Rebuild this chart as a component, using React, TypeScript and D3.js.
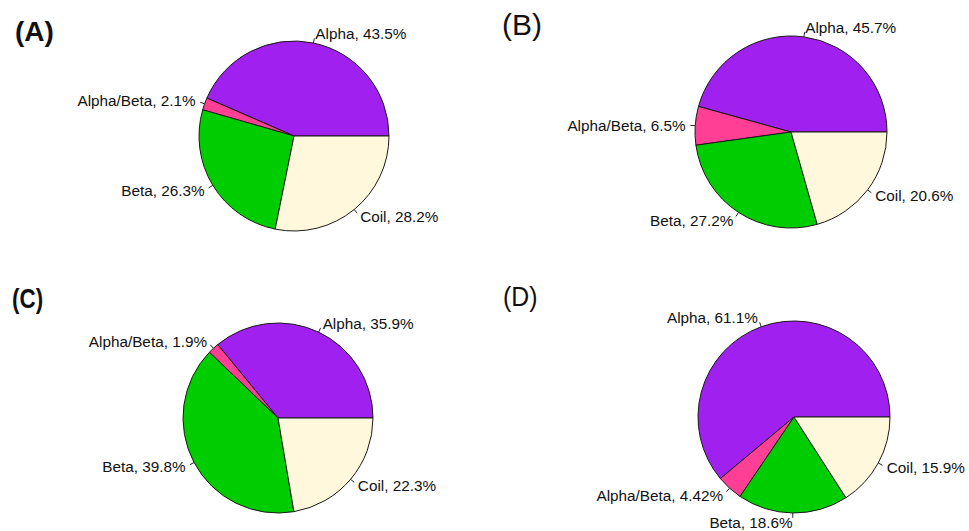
import React from 'react';
import * as d3 from 'd3';

// secondary structure classes, same order in every panel (R pie: counter-clockwise from 3 o'clock)
const categories = ["Alpha", "Alpha/Beta", "Beta", "Coil"];
const colors = ["#A020F0", "#FF3E96", "#00CD00", "#FFF8DC"];

const valuesA = [43.5, 2.1, 26.3, 28.2];
const valuesB = [45.7, 6.5, 27.2, 20.6];
const valuesC = [35.9, 1.9, 39.8, 22.3];
const valuesD = [61.1, 4.42, 18.6, 15.9];

const panelTags = ["(A)", "(B)", "(C)", "(D)"];

// layout only
const panels = [
    {values: valuesA, cx: 294, cy: 136, r: 95, tag: {x: 15, y: 41, size: 28, weight: "bold", sx: 1}},
    {values: valuesB, cx: 791, cy: 132, r: 96, tag: {x: 502, y: 35, size: 30, weight: "normal", sx: 1}},
    {values: valuesC, cx: 278, cy: 418, r: 95, tag: {x: 12, y: 308, size: 28, weight: "bold", sx: 0.8}},
    {values: valuesD, cx: 794, cy: 417, r: 96, tag: {x: 503, y: 306, size: 27, weight: "normal", sx: 0.92}},
];

const font = "'Liberation Sans', Arial, sans-serif";

const Pie = ({values, cx, cy, r}: {values: number[], cx: number, cy: number, r: number}) => {
    // start at 3 o'clock and go counter-clockwise, like base R
    const pie = d3.pie<number>().sort(null).startAngle(Math.PI / 2).endAngle(Math.PI / 2 - 2 * Math.PI);
    const arc = d3.arc<d3.PieArcDatum<number>>().innerRadius(0).outerRadius(r);
    const arcs = pie(values);

    return (
        <g transform={`translate(${cx},${cy})`}>
            {arcs.map((a, i) => (
                <path key={i} d={arc(a) || ""} fill={colors[i]} stroke="#1a1a1a" strokeWidth={1} />
            ))}
            {arcs.map((a, i) => {
                const mid = (a.startAngle + a.endAngle) / 2;
                const ux = Math.sin(mid), uy = -Math.cos(mid);
                return (
                    <g key={"l" + i}>
                        <line x1={ux * r} y1={uy * r} x2={ux * r * 1.05} y2={uy * r * 1.05} stroke="#222" strokeWidth={1} />
                        <text x={ux * r * 1.1} y={uy * r * 1.1} dy="0.36em"
                              textAnchor={ux < 0 ? "end" : "start"}
                              fontFamily={font} fontSize={15.3} fill="#111">
                            {`${categories[i]}, ${values[i]}%`}
                        </text>
                    </g>
                );
            })}
        </g>
    );
};

export default function App() {
    return (
        <svg width={969} height={531} style={{position: "absolute", left: 0, top: 0, background: "#fff"}}>
            <rect width={969} height={531} fill="#fff" />
            {panels.map((p, i) => (
                <g key={i}>
                    <text transform={`translate(${p.tag.x},${p.tag.y}) scale(${p.tag.sx},1)`}
                          fontFamily={font} fontSize={p.tag.size} fontWeight={p.tag.weight} fill="#111">
                        {panelTags[i]}
                    </text>
                    <Pie values={p.values} cx={p.cx} cy={p.cy} r={p.r} />
                </g>
            ))}
        </svg>
    );
}
